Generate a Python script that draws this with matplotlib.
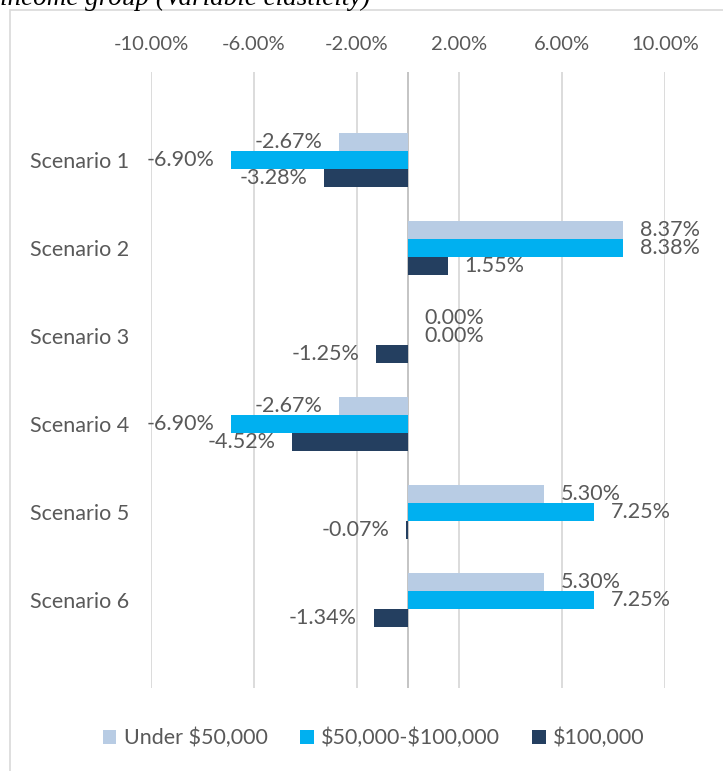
import numpy as np
import matplotlib
matplotlib.use('Agg')
import matplotlib.pyplot as plt
from matplotlib.patches import Patch, Rectangle

'''
Scenario bar chart by income group
'''

scenarios = ['Scenario 1', 'Scenario 2', 'Scenario 3',
             'Scenario 4', 'Scenario 5', 'Scenario 6']
groups = ['Under \\$50,000', '\\$50,000-\\$100,000', '\\$100,000']
under_50k = [-2.67, 8.37, 0.00, -2.67, 5.30, 5.30]
mid_50_100k = [-6.90, 8.38, 0.00, -6.90, 7.25, 7.25]
over_100k = [-3.28, 1.55, -1.25, -4.52, -0.07, -1.34]
xticks = [-10, -6, -2, 2, 6, 10]

colors = ['#B8CCE4', '#00B0F0', '#243F60']
text_col = '#595959'
grid_col = '#D9D9D9'

plt.rcParams['font.family'] = ['Lato', 'DejaVu Sans']

fig = plt.figure(figsize=(7.23, 7.71), dpi=100)
W, H = 723, 771
ax = fig.add_axes([151 / W, 1 - 688 / H, (665 - 151) / W, (688 - 72) / H])

# frame of the chart box, cut by the image edge
fig.patches.append(Rectangle((10 / W, -0.1), 1.2, 1 - 10 / H + 0.1,
                             transform=fig.transFigure, fill=False,
                             edgecolor=grid_col, lw=1.2))

# caption above the chart, partly cut off
fig.text(0.0, 1 - 5 / H, 'income group (Variable elasticity)',
         family='Liberation Serif', style='italic', fontsize=19.5,
         va='baseline', ha='left', color='black')

y = np.arange(1, len(scenarios) + 1)
h = 0.205
series = [under_50k, mid_50_100k, over_100k]
offsets = [-h, 0, h]

for vals, off, col, name in zip(series, offsets, colors, groups):
    bars = ax.barh(y + off, vals, height=h, color=col, label=name, zorder=3)
    for yy, v in zip(y + off, vals):
        ax.annotate(f'{v:.2f}%', (v, yy),
                    xytext=(12 if v >= 0 else -12, 0), textcoords='offset points',
                    ha='left' if v >= 0 else 'right', va='center',
                    fontsize=15.5, color=text_col, zorder=4)

ax.set_xlim(-10, 10)
ax.set_ylim(7, 0)
ax.set_xticks(xticks)
ax.set_xticklabels([f'{t:.2f}%' for t in xticks])
ax.xaxis.tick_top()
ax.set_yticks(y)
ax.set_yticklabels(scenarios)
ax.tick_params(axis='x', length=0, pad=14, labelsize=14.5, labelcolor=text_col)
ax.tick_params(axis='y', length=0, pad=16, labelsize=15.5, labelcolor=text_col)
ax.grid(axis='x', color=grid_col, lw=1.3, zorder=0)
ax.axvline(0, color='#BFBFBF', lw=1.3, zorder=2)
for s in ax.spines.values():
    s.set_visible(False)

handles = [Patch(facecolor=c, label=g) for c, g in zip(colors, groups)]
fig.legend(handles=handles, loc='center', bbox_to_anchor=(374 / W, 1 - 738 / H),
           ncol=3, frameon=False, fontsize=15.5, handlelength=0.62,
           handleheight=0.62, handletextpad=0.35, columnspacing=1.5,
           labelcolor=text_col)

fig.savefig('out.png', dpi=100)
